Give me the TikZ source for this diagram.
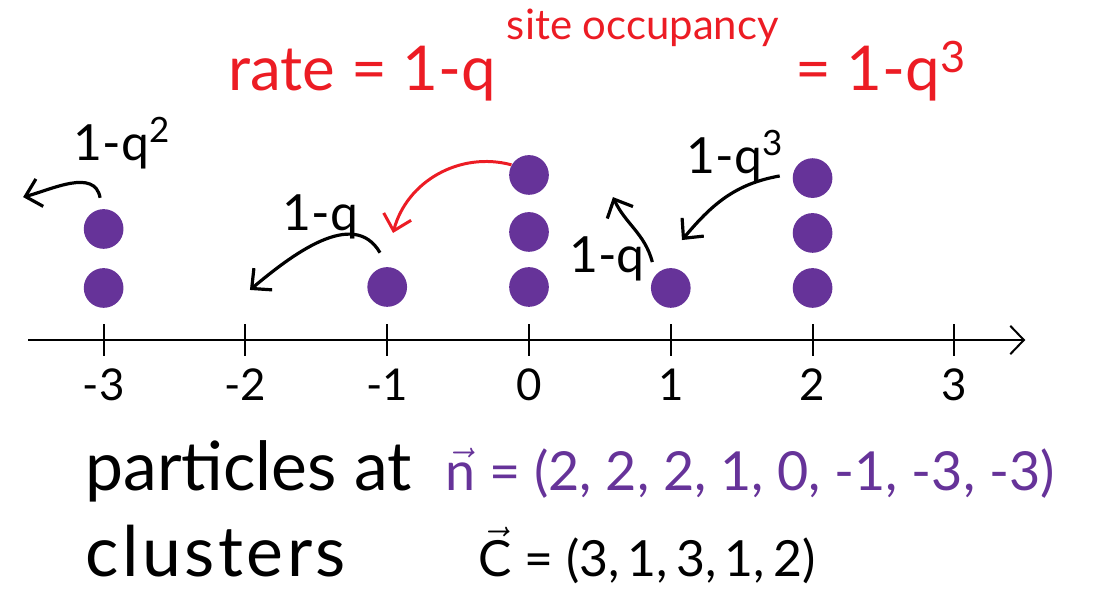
\documentclass[tikz,border=0pt]{standalone}
\usepackage{fontspec}
\setmainfont{Lato}
\usetikzlibrary{arrows.meta,positioning}
\definecolor{dotpurple}{HTML}{663399}
\definecolor{ratered}{HTML}{EC1C24}

\begin{document}
\begin{tikzpicture}[x=2.5cm,y=2.5cm,font=\fontsize{22}{26}\selectfont,
    particle/.style={circle,fill=dotpurple,minimum size=0.7cm,inner sep=0pt},
    hop/.style={line width=1.6pt,-{Straight Barb[length=2.6mm,width=5mm]}},
    hoplabel/.style={font=\fontsize{25}{30}\selectfont},
    bigtext/.style={anchor=base west,inner sep=0pt,font=\fontsize{31}{36}\selectfont}]
  \useasboundingbox (-3.731,-1.770) rectangle (3.999,2.398);

  \coordinate (axleft) at (-3.53,0);
  \coordinate (axright) at (3.5,0);
  \draw[line width=1pt,-{Straight Barb[length=2.4mm,width=5mm]}] (axleft) -- (axright);
  \foreach \k in {-3,...,3} {
    \draw[line width=1pt] (\k,-.11) -- (\k,.11);
    \node[anchor=base] (tick\k) at (\k,-.43) {\k};
  }

  \node[particle] (pm3a) at (-3,.367) {};
  \node[particle] (pm3b) at (-3,.783) {};
  \node[particle] (pm1a) at (-1,.374) {};
  \node[particle] (p0a) at (0,.374) {};
  \node[particle] (p0b) at (0,.762) {};
  \node[particle] (p0c) at (0,1.164) {};
  \node[particle] (p1a) at (1,.367) {};
  \node[particle] (p2a) at (2,.367) {};
  \node[particle] (p2b) at (2,.755) {};
  \node[particle] (p2c) at (2,1.142) {};

  \coordinate (hopA) at (-3.568,1.008);
  \coordinate (hopB) at (-1.968,.353);
  \coordinate (hopR) at (-.959,.755);
  \coordinate (hopC) at (.592,1.008);
  \coordinate (hopD) at (1.079,.705);
  \draw[hop] ([shift={(-.025,.077)}]pm3b.north) to[out=100,in=15] (hopA);
  \draw[hop] ([shift={(-.051,.099)}]pm1a.north) to[out=120,in=40] (hopB);
  \draw[hop,ratered,line width=1.5pt] (p0c.150) to[out=165,in=75] (hopR);
  \draw[hop] ([shift={(-.13,.04)}]p1a.north) to[out=105,in=-65] (hopC);
  \draw[hop] ([shift={(-.089,.015)}]p2c.west) to[out=190,in=50] (hopD);

  \node[hoplabel] (rateA) at (-2.87,1.39) {1-q\textsuperscript{2}};
  \node[hoplabel] (rateB) at (-1.47,.87) {1-q};
  \node[hoplabel] (rateC) at (.55,.57) {1-q};
  \node[hoplabel] (rateD) at (1.453,1.30) {1-q\textsuperscript{3}};

  \node[bigtext,text=ratered] (rate) at (-2.123,1.763) {rate = 1-q};
  \node[anchor=base west,text=ratered,font=\fontsize{21}{24}\selectfont] (occ) at (-.205,2.116) {site occupancy};
  \node[bigtext,text=ratered] (cube) at (1.876,1.763) {= 1-q\textsuperscript{3}};

  \node[bigtext,font=\fontsize{34}{40}\selectfont] (parts) at (-3.131,-1.058) {particles at};
  \node[bigtext,text=dotpurple,font=\fontsize{27}{32}\selectfont] (nvec) at (-.592,-1.058) {$\vec{\mbox{n}}$ = (2, 2, 2, 1, 0, -1, -3, -3)};
  \node[bigtext,font=\fontsize{35}{40}\selectfont\addfontfeature{LetterSpace=5}] (clus) at (-3.131,-1.671) {clusters};
  \node[bigtext,font=\fontsize{25}{30}\selectfont] (cvec) at (-.36,-1.671) {$\vec{\mbox{C}}$ = (3,\,1,\,3,\,1,\,2)};
\end{tikzpicture}
\end{document}
